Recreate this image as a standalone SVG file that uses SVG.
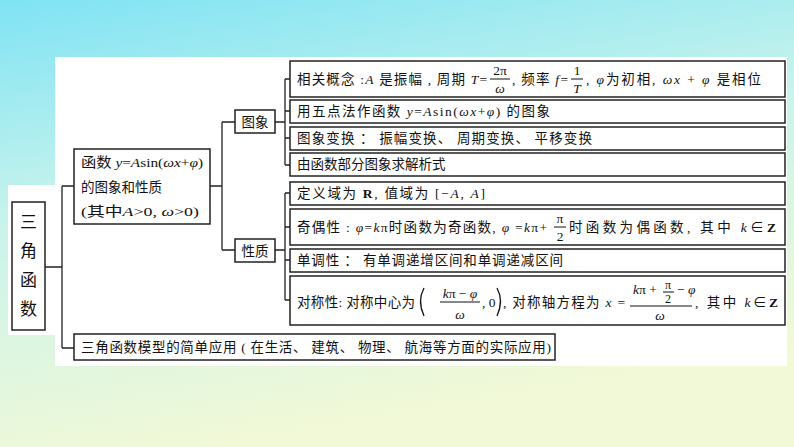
<svg xmlns="http://www.w3.org/2000/svg" width="794" height="447" viewBox="0 0 794 447">
<defs>
<linearGradient id="bg" x1="0" y1="0" x2="0.3" y2="1">
<stop offset="0" stop-color="#7fe3f4"/><stop offset="0.45" stop-color="#c8f3ec"/><stop offset="1" stop-color="#f2f9d6"/>
</linearGradient>
<style>
.b{fill:#fff;stroke:#222;stroke-width:1.5}
.t{font-family:"Liberation Serif","Noto Sans CJK SC",serif;font-size:13.5px;fill:#111}
.i{font-style:italic}
.f{stroke:#111;stroke-width:1}
.c line,.c path{stroke:#222;stroke-width:1.3;fill:none}
</style>
</defs>
<rect width="794" height="447" fill="url(#bg)"/>
<rect x="55" y="57" width="732" height="309" fill="#fff"/>
<rect x="8" y="185" width="50" height="150" fill="#fff"/>
<g class="c">
<path d="M45 267H62M62 186V348M62 186H74M62 348H74"/>
<path d="M210 186H222M222 122V250M222 122H235M222 250H235"/>
<path d="M275 122H285M285 79V165M285 79H290M285 111H290M285 138H290M285 165H290"/>
<path d="M275 250H285M285 193V300M285 193H290M285 227H290M285 260H290M285 300H290"/>
</g>
<g id="root"><rect class="b" x="12" y="202" width="33" height="128"/>
<text class="t" x="28.5" y="228" text-anchor="middle" style="font-size:17px">三</text>
<text class="t" x="28.5" y="257" text-anchor="middle" style="font-size:17px">角</text>
<text class="t" x="28.5" y="286" text-anchor="middle" style="font-size:17px">函</text>
<text class="t" x="28.5" y="315" text-anchor="middle" style="font-size:17px">数</text></g>
<g id="func"><rect class="b" x="74" y="149" width="136" height="75"/>
<text class="t" x="81" y="167" textLength="122" lengthAdjust="spacingAndGlyphs">函数 <tspan class="i">y</tspan>=<tspan class="i">A</tspan>sin(<tspan class="i">ωx</tspan>+<tspan class="i">φ</tspan>)</text>
<text class="t" x="81" y="192">的图象和性质</text>
<text class="t" x="81" y="216" textLength="118" lengthAdjust="spacingAndGlyphs">(其中<tspan class="i">A</tspan>&gt;0, <tspan class="i">ω</tspan>&gt;0)</text></g>
<g id="tuxiang"><rect class="b" x="235" y="110" width="40" height="23"/><text class="t" x="255" y="127" text-anchor="middle">图象</text></g>
<g id="xingzhi"><rect class="b" x="235" y="239" width="40" height="23"/><text class="t" x="255" y="256" text-anchor="middle">性质</text></g>
<g id="r1"><rect class="b" x="290" y="61" width="495" height="36"/>
<text class="t" x="297" y="84" textLength="190" lengthAdjust="spacing">相关概念 :<tspan class="i">A</tspan> 是振幅 , 周期 <tspan class="i">T</tspan>=</text>
<text class="t" x="500" y="75" text-anchor="middle">2π</text><line class="f" x1="490" y1="79" x2="510" y2="79"/><text class="t i" x="500" y="93" text-anchor="middle">ω</text>
<text class="t" x="512" y="84" textLength="56" lengthAdjust="spacing">,    频率 <tspan class="i">f</tspan>=</text>
<text class="t" x="577" y="75" text-anchor="middle">1</text><line class="f" x1="571" y1="79" x2="583" y2="79"/><text class="t i" x="577" y="93" text-anchor="middle">T</text>
<text class="t" x="586" y="84" textLength="175" lengthAdjust="spacing">, <tspan class="i">φ</tspan>为初相, <tspan class="i">ωx</tspan> + <tspan class="i">φ</tspan> 是相位</text></g>
<g id="r2"><rect class="b" x="290" y="100" width="495" height="23"/>
<text class="t" x="297" y="116" textLength="253" lengthAdjust="spacing">用五点法作函数 <tspan class="i">y</tspan>=<tspan class="i">A</tspan>sin(<tspan class="i">ωx</tspan>+<tspan class="i">φ</tspan>)  的图象</text></g>
<g id="r3"><rect class="b" x="290" y="127" width="495" height="23"/>
<text class="t" x="297" y="143" textLength="295" lengthAdjust="spacing">图象变换 ：  振幅变换、  周期变换、  平移变换</text></g>
<g id="r4"><rect class="b" x="290" y="153" width="495" height="23"/>
<text class="t" x="297" y="169">由函数部分图象求解析式</text></g>
<g id="r5"><rect class="b" x="290" y="182" width="495" height="23"/>
<text class="t" x="297" y="198" textLength="188" lengthAdjust="spacing">定义域为 <tspan font-weight="bold">R</tspan>,  值域为 [−<tspan class="i">A</tspan>, <tspan class="i">A</tspan>]</text></g>
<g id="r6"><rect class="b" x="290" y="209" width="495" height="36"/>
<text class="t" x="297" y="232" textLength="250" lengthAdjust="spacing">奇偶性 : <tspan class="i">φ</tspan>=<tspan class="i">k</tspan>π时函数为奇函数, <tspan class="i">φ</tspan> =<tspan class="i">k</tspan>π+</text>
<text class="t" x="560" y="223" text-anchor="middle">π</text><line class="f" x1="554" y1="227" x2="566" y2="227"/><text class="t" x="560" y="241" text-anchor="middle">2</text>
<text class="t" x="569" y="232" textLength="207" lengthAdjust="spacing">时函数为偶函数,    其中 <tspan class="i">k</tspan>∈<tspan font-weight="bold">Z</tspan></text></g>
<g id="r7"><rect class="b" x="290" y="249" width="495" height="23"/>
<text class="t" x="297" y="265" textLength="266" lengthAdjust="spacing">单调性 ：  有单调递增区间和单调递减区间</text></g>
<g id="r8"><rect class="b" x="290" y="276" width="495" height="49"/>
<text class="t" x="297" y="307" textLength="118" lengthAdjust="spacing">对称性: 对称中心为</text>
<path d="M424 288Q417 301 424 316" fill="none" stroke="#111" stroke-width="1.3"/>
<text class="t" x="460" y="298" text-anchor="middle"><tspan class="i">k</tspan>π − <tspan class="i">φ</tspan></text><line class="f" x1="440" y1="302" x2="480" y2="302"/><text class="t i" x="460" y="319" text-anchor="middle">ω</text>
<text class="t" x="482" y="307">,  0</text>
<path d="M497 288Q504 301 497 316" fill="none" stroke="#111" stroke-width="1.3"/>
<text class="t" x="503" y="307" textLength="122" lengthAdjust="spacing">, 对称轴方程为 <tspan class="i">x</tspan> =</text>
<text class="t" x="633" y="294"><tspan class="i">k</tspan>π +</text>
<text class="t" x="668" y="289" text-anchor="middle" style="font-size:12px">π</text><line class="f" x1="663" y1="292" x2="674" y2="292"/><text class="t" x="668" y="303" text-anchor="middle" style="font-size:12px">2</text>
<text class="t" x="677" y="294">− <tspan class="i">φ</tspan></text>
<line class="f" x1="630" y1="306" x2="692" y2="306"/><text class="t i" x="660" y="320" text-anchor="middle">ω</text>
<text class="t" x="695" y="307" textLength="83" lengthAdjust="spacing">,     其中 <tspan class="i">k</tspan>∈<tspan font-weight="bold">Z</tspan></text></g>
<g id="app"><rect class="b" x="74" y="334" width="481" height="26"/>
<text class="t" x="81" y="352" textLength="470" lengthAdjust="spacing">三角函数模型的简单应用 ( 在生活、  建筑、  物理、  航海等方面的实际应用)</text></g>
</svg>
